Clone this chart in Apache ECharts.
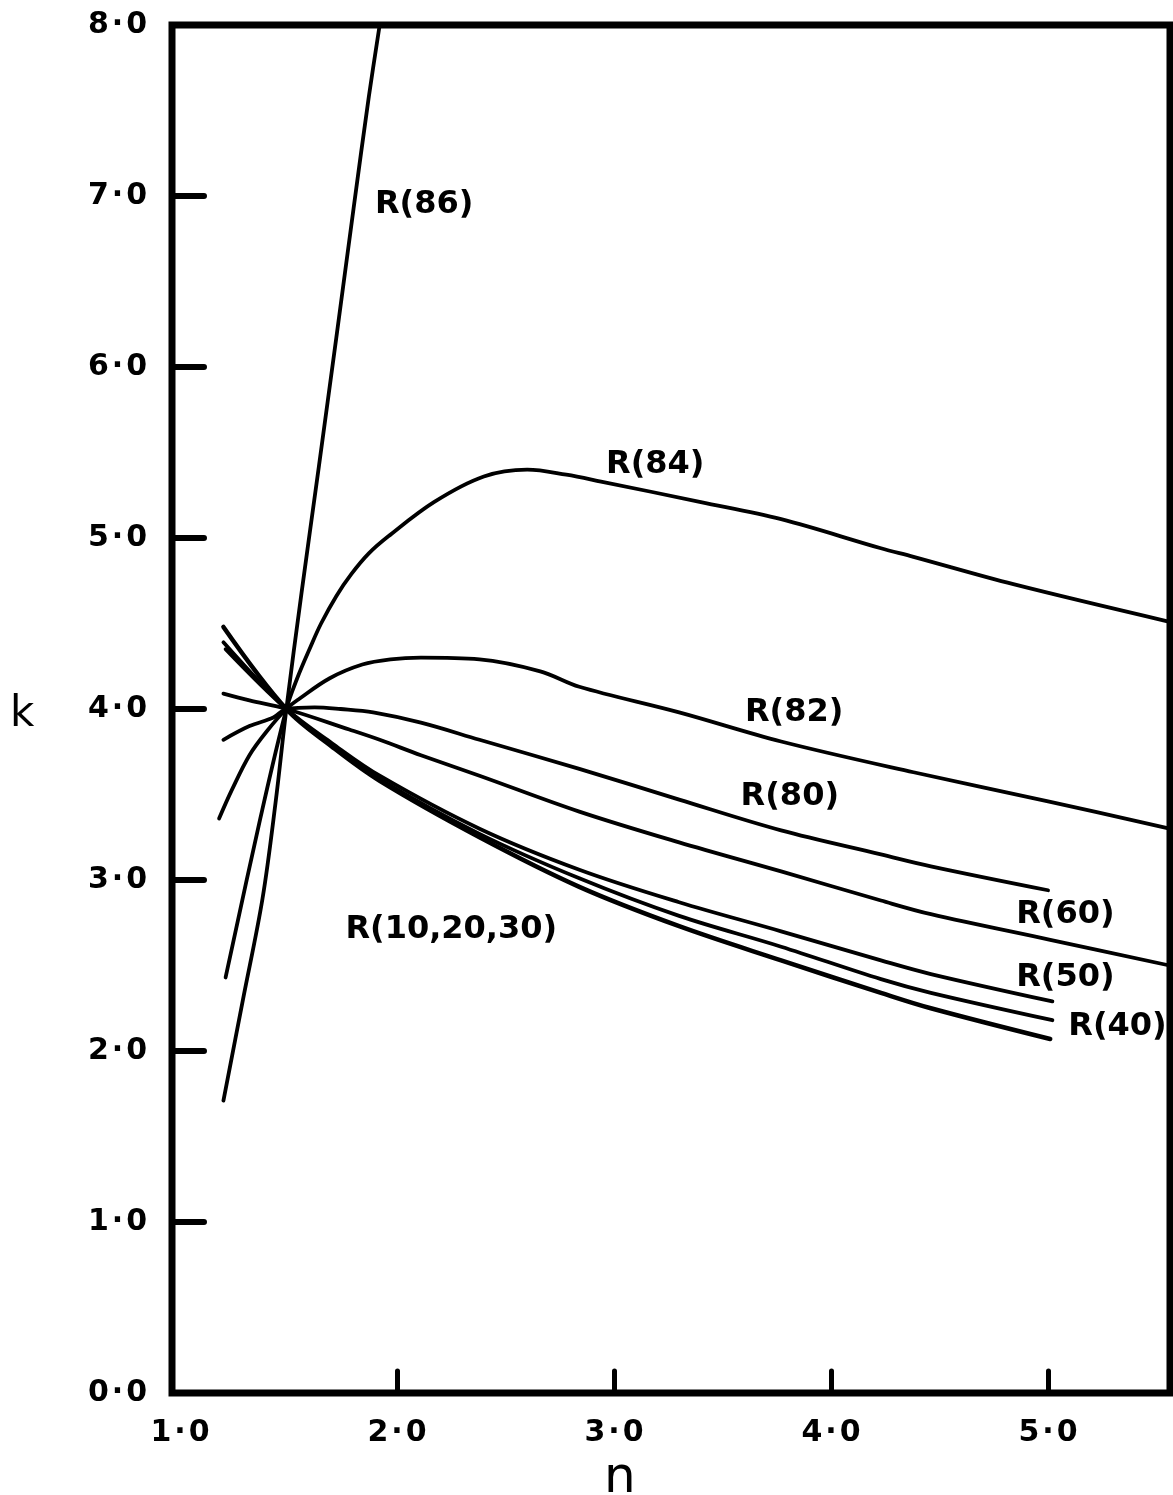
<!DOCTYPE html>
<html>
<head>
<meta charset="utf-8">
<script src="https://cdn.jsdelivr.net/npm/echarts@6/dist/echarts.min.js"></script>
<style>
  html, body { margin: 0; padding: 0; background: #ffffff; }
  #chart { width: 1173px; height: 1495px; }
</style>
</head>
<body>
<div id="chart"></div>
<script>
// Axis ticks and labels
const nLabelValues = [1, 2, 3, 4, 5];
const nTickValues = [2, 3, 4, 5];
const kLabelValues = [0, 1, 2, 3, 4, 5, 6, 7, 8];
const kTickValues = [1, 2, 3, 4, 5, 6, 7];

// Curves of k against n, one per R value: [n, k]
const r86 = [[1.20, 1.71], [1.29, 2.30], [1.38, 2.89], [1.44, 3.45], [1.49, 4.00], [1.56, 4.68],
  [1.64, 5.42], [1.72, 6.17], [1.80, 6.93], [1.87, 7.58], [1.92, 8.00]];
const r84 = [[1.21, 2.43], [1.37, 3.36], [1.49, 4.00], [1.54, 4.18], [1.60, 4.36], [1.65, 4.50],
  [1.72, 4.66], [1.79, 4.79], [1.87, 4.91], [1.96, 5.01], [2.17, 5.21], [2.40, 5.36], [2.60, 5.40],
  [2.78, 5.37], [2.94, 5.33], [3.40, 5.21], [3.77, 5.11], [4.23, 4.94], [4.38, 4.89], [4.84, 4.73],
  [5.56, 4.51]];
const r82 = [[1.18, 3.36], [1.24, 3.53], [1.32, 3.73], [1.40, 3.87], [1.49, 4.00], [1.55, 4.06],
  [1.69, 4.18], [1.84, 4.26], [1.97, 4.29], [2.11, 4.30], [2.38, 4.29], [2.66, 4.22], [2.84, 4.13],
  [3.30, 3.98], [3.77, 3.81], [4.38, 3.63], [5.00, 3.46], [5.56, 3.30]];
const r80 = [[1.20, 3.82], [1.32, 3.90], [1.43, 3.95], [1.49, 4.00], [1.62, 4.01], [1.74, 4.00],
  [1.89, 3.98], [2.11, 3.92], [2.38, 3.82], [2.84, 3.65], [3.30, 3.47], [3.77, 3.29], [4.23, 3.15],
  [4.46, 3.08], [5.00, 2.94]];
const r60 = [[1.20, 4.09], [1.32, 4.05], [1.49, 4.00], [1.78, 3.88], [1.92, 3.82], [2.11, 3.73],
  [2.38, 3.61], [2.84, 3.40], [3.30, 3.22], [3.77, 3.05], [4.23, 2.88], [4.46, 2.80], [5.01, 2.65],
  [5.56, 2.50]];
const r50 = [[1.21, 4.35], [1.49, 4.00], [1.70, 3.80], [1.92, 3.61], [2.38, 3.30], [2.84, 3.06],
  [3.30, 2.87], [3.77, 2.70], [4.23, 2.53], [4.46, 2.45], [5.02, 2.29]];
const r40 = [[1.20, 4.39], [1.49, 4.00], [1.70, 3.79], [1.92, 3.59], [2.38, 3.27], [2.84, 3.01],
  [3.30, 2.79], [3.77, 2.61], [4.23, 2.42], [4.46, 2.34], [5.02, 2.18]];
const r10to30 = [[1.20, 4.48], [1.49, 4.00], [1.70, 3.78], [1.92, 3.58], [2.38, 3.25], [2.84, 2.96],
  [3.30, 2.73], [3.77, 2.53], [4.23, 2.34], [4.46, 2.25], [5.01, 2.07]];

const curves = [
  { name: 'R(86)', data: r86 },
  { name: 'R(84)', data: r84 },
  { name: 'R(82)', data: r82 },
  { name: 'R(80)', data: r80 },
  { name: 'R(60)', data: r60 },
  { name: 'R(50)', data: r50 },
  { name: 'R(40)', data: r40 },
  { name: 'R(10,20,30)', data: r10to30 }
];

// Curve captions, anchored in data space: [n, k, text]
const captions = [
  [2.125, 6.95, 'R(86)'],
  [3.19, 5.43, 'R(84)'],
  [3.83, 3.98, 'R(82)'],
  [3.81, 3.485, 'R(80)'],
  [5.08, 2.80, 'R(60)'],
  [5.08, 2.43, 'R(50)'],
  [5.32, 2.14, 'R(40)'],
  [2.25, 2.71, 'R(10,20,30)']
];

const FONT = 'DejaVu Sans';
const fmtTick = v => v.toFixed(1).replace('.', '\u200a\u00b7\u200a');

const chart = echarts.init(document.getElementById('chart'), null, { renderer: 'canvas' });

const lineSeries = curves.map(c => ({
  type: 'line',
  name: c.name,
  data: c.data,
  smooth: 0.35,
  symbol: 'none',
  clip: true,
  silent: true,
  lineStyle: { color: '#000', width: c.name === 'R(10,20,30)' ? 4.5 : 3.8, cap: 'round', join: 'round' }
}));

chart.setOption({
  animation: false,
  backgroundColor: '#ffffff',
  grid: {
    left: 172, right: 3, top: 25, bottom: 102,
    show: true, borderColor: '#000', borderWidth: 7, backgroundColor: 'transparent'
  },
  xAxis: {
    type: 'value',
    min: 0.963,
    max: 5.562,
    splitLine: { show: false },
    axisLine: { show: false },
    axisTick: {
      show: true, inside: true, length: 22, customValues: nTickValues,
      lineStyle: { color: '#000', width: 5, cap: 'round' }
    },
    axisLabel: {
      show: true, customValues: nLabelValues, margin: 25,
      formatter: fmtTick,
      fontFamily: FONT, fontWeight: 'bold', fontSize: 30, color: '#000'
    }
  },
  yAxis: {
    type: 'value',
    min: 0,
    max: 8,
    interval: 1,
    splitLine: { show: false },
    axisLine: { show: false },
    axisTick: {
      show: true, inside: true, length: 32, customValues: kTickValues,
      lineStyle: { color: '#000', width: 6, cap: 'round' }
    },
    axisLabel: {
      show: true, customValues: kLabelValues, margin: 25,
      formatter: fmtTick,
      fontFamily: FONT, fontWeight: 'bold', fontSize: 30, color: '#000'
    }
  },
  graphic: [
    { type: 'text', left: 10, top: 694,
      style: { text: 'k', font: '42px "DejaVu Sans"', fill: '#000' } },
    { type: 'text', left: 604, top: 1454,
      style: { text: 'n', font: '50px "DejaVu Sans"', fill: '#000' } }
  ],
  series: lineSeries.concat([{
    type: 'scatter',
    name: 'captions',
    data: captions,
    symbolSize: 0,
    silent: true,
    itemStyle: { opacity: 1 },
    label: {
      show: true,
      position: 'inside',
      opacity: 1,
      formatter: p => p.value[2],
      fontFamily: FONT, fontWeight: 'bold', fontSize: 32, color: '#000'
    }
  }])
});
</script>
</body>
</html>
